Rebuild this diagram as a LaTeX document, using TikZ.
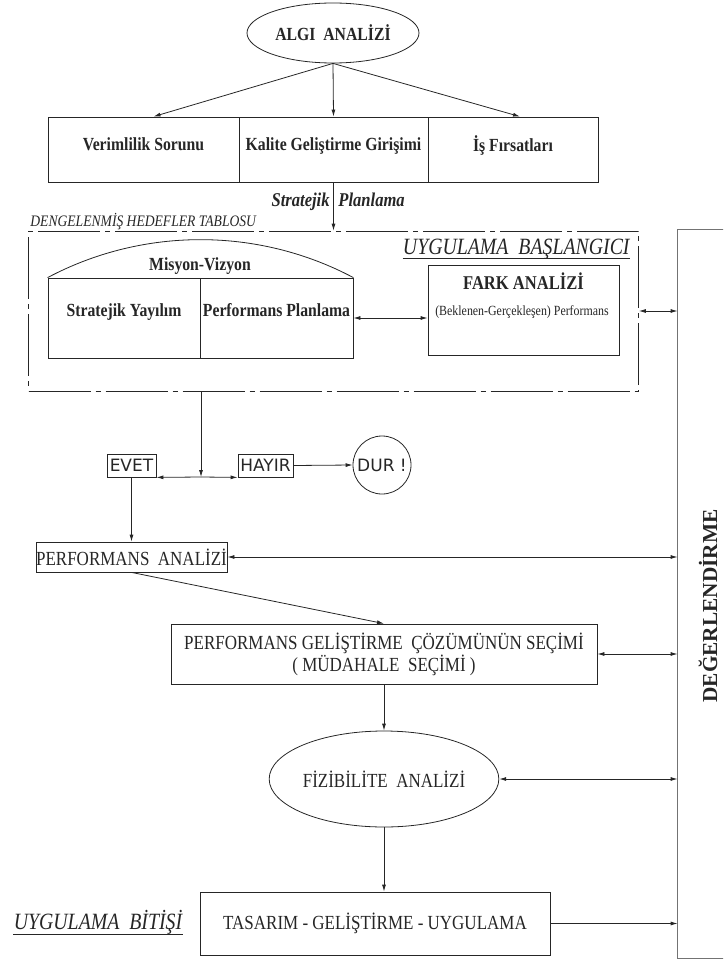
\documentclass[tikz,border=0pt]{standalone}
\usepackage{fontspec}
\setmainfont{Liberation Serif}
\newfontfamily\nrw[FakeStretch=0.85]{Liberation Serif}
\newfontfamily\cadf{DejaVu Sans}
\usetikzlibrary{shapes.geometric,arrows.meta,positioning}
\newcommand{\fs}[1]{\fontsize{#1}{#1}\selectfont}

\begin{document}
\begin{tikzpicture}[x=1pt,y=-1pt,line width=0.8pt,color=black!85,
	cell/.style={draw,rectangle,inner sep=0pt,font=\nrw\bfseries\fs{18.5}},
	box/.style={draw,rectangle,inner sep=0pt,font=\nrw\fs{20}},
	oval/.style={draw,ellipse,inner sep=0pt},
	cad/.style={draw,inner sep=0pt,font=\cadf\fs{17}},
	ital/.style={inner sep=0pt,font=\nrw\itshape\fs{23.3}},
	arr/.style={-{Latex[length=7pt,width=4pt]}},
	darr/.style={{Latex[length=7pt,width=4pt]}-{Latex[length=7pt,width=4pt]}}]
\useasboundingbox (0,0) rectangle (723,960);
\clip (0,0) rectangle (723,960);
\node[oval,minimum width=172pt,minimum height=60pt,font=\nrw\bfseries\fs{18.5}] (algi) at (333,33) {ALGI\ \ ANALİZİ};
\node[cell,minimum width=191pt,minimum height=65pt,text depth=11pt] (ver) at (143.5,149.5) {Verimlilik Sorunu};
\node[cell,minimum width=189pt,minimum height=65pt,text depth=11pt] (kal) at (333.5,149.5) {Kalite Geliştirme Girişimi};
\node[cell,minimum width=170pt,minimum height=65pt,text depth=11pt] (isf) at (513,149.5) {İş Fırsatları};
\draw[arr] (algi.south) -- ([xshift=10pt]ver.north);
\draw[arr] (algi.south) -- (kal.north);
\draw[arr] (algi.south) -- ([xshift=7pt]isf.north);
\node[anchor=base east,inner sep=0pt,font=\nrw\bfseries\itshape\fs{19.5}] (strat) at (330,206) {Stratejik};
\node[anchor=base west,inner sep=0pt,font=\nrw\bfseries\itshape\fs{19.5}] (plan) at (338,206) {Planlama};
% dengelenmis hedefler tablosu
\node[draw,dash pattern=on 62pt off 5pt on 5pt off 5pt,minimum width=610pt,minimum height=160pt] (frame) at (333.5,311) {};
\draw[arr] (kal.south) -- (kal.south |- frame.north);
\node[anchor=base west,inner sep=0pt,font=\nrw\itshape\fs{16}] (tablo) at (30,226) {DENGELENMİŞ HEDEFLER TABLOSU};
\node[ital,anchor=base east] (basla) at (630,254) {UYGULAMA\ \ BAŞLANGICI};
\draw ([yshift=-4pt]basla.base west) -- ([yshift=-4pt]basla.base east);
\node[cell,minimum width=152pt,minimum height=80pt,text depth=16pt] (sy) at (124,318) {Stratejik Yayılım};
\node[cell,minimum width=153pt,minimum height=80pt,text depth=16pt] (pp) at (276.5,318) {Performans Planlama};
\draw (sy.north west) .. controls (143,227) and (258,227) .. (pp.north east);
\node[font=\nrw\bfseries\fs{18.5}] (mv) at (200,266) {Misyon-Vizyon};
\node[draw,minimum width=191pt,minimum height=90pt] (fark) at (523.5,310) {};
\node[font=\nrw\bfseries\fs{19.5}] (farkt) at (523.5,281) {FARK ANALİZİ};
\node[font=\nrw\fs{14}] (farks) at (522,312) {(Beklenen-Gerçekleşen) Performans};
\draw[darr] (pp.east) -- (pp.east -| fark.west);
% degerlendirme
\node[minimum width=64pt,minimum height=728pt] (deg) at (710,594) {};
\draw[black!55] (deg.north east) -- (deg.north west) -- (deg.south west) -- (deg.south east);
\node[rotate=90,font=\bfseries\fs{21.3}] (degt) at (708,606) {DEĞERLENDİRME};
\draw[darr] (frame.east) -- (frame.east -| deg.west);
% karar
\coordinate (jn) at (201,477);
\node[cad,minimum width=49pt,minimum height=23pt] (evet) at (131.5,465.5) {EVET};
\node[cad,minimum width=55pt,minimum height=23pt] (hayir) at (265.5,465.5) {HAYIR};
\node[cad,circle,minimum size=58pt] (dur) at (382,465) {DUR !};
\draw[arr] (frame.south -| jn) -- (jn);
\draw[arr] (jn) -- (evet.south east);
\draw[arr] (jn) -- (hayir.south west);
\draw[arr] (hayir.east) -- (dur.west);
\node[box,minimum width=191pt,minimum height=30pt] (pa) at (131.5,557) {PERFORMANS\ \ ANALİZİ};
\draw[arr] (evet.south) -- (evet.south |- pa.north);
\draw[darr] (pa.east) -- (pa.east -| deg.west);
\node[box,minimum width=426pt,minimum height=60pt,align=center,font=\nrw\fontsize{20}{17}\selectfont] (pg) at (384,654) {PERFORMANS GELİŞTİRME\ \ ÇÖZÜMÜNÜN SEÇİMİ\\( MÜDAHALE\ \ SEÇİMİ )};
\draw[arr] (pa.south) -- (pg.north);
\draw[darr] (pg.east) -- (pg.east -| deg.west);
\node[oval,minimum width=217pt,minimum height=96pt,font=\nrw\fs{20}] (fiz) at (384,779) {FİZİBİLİTE\ \ ANALİZİ};
\draw[arr] (pg.south) -- (fiz.north);
\draw[darr] (fiz.east) -- (fiz.east -| deg.west);
\node[box,minimum width=350pt,minimum height=63pt] (tas) at (375,923.5) {TASARIM - GELİŞTİRME - UYGULAMA};
\draw[arr] (fiz.south) -- (fiz.south |- tas.north);
\draw[arr] (tas.east) -- (tas.east -| deg.west);
\node[ital,anchor=base] (bitis) at (98,929) {UYGULAMA\ \ BİTİŞİ};
\draw ([yshift=-5pt]bitis.base west) -- ([yshift=-5pt]bitis.base east);
\end{tikzpicture}
\end{document}
